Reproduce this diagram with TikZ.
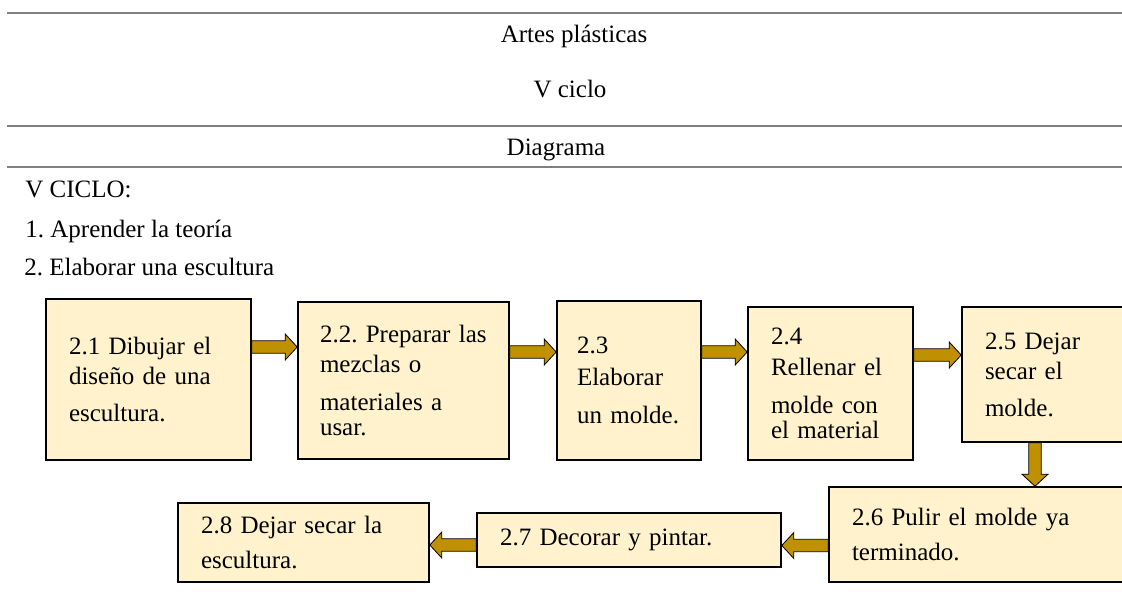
\documentclass[tikz,border=0pt]{standalone}
\usepackage{fontspec}
\setmainfont{Liberation Serif}
\usepackage{tikz}
\usetikzlibrary{calc}

\definecolor{cajafondo}{HTML}{FFF2CC}
\definecolor{flechaoro}{HTML}{BF9000}
\definecolor{regla}{HTML}{808080}

\tikzset{
  caja/.style={draw=black, line width=0.8pt, fill=cajafondo, inner xsep=11.5pt, align=left, font=\fontsize{12.5pt}{15pt}\selectfont},
  texto/.style={inner sep=0pt, font=\fontsize{12.5pt}{15pt}\selectfont},
  flecha/.style={fill=flechaoro, draw=black, line width=0.4pt, line join=miter},
  linea/.style={draw=regla, line width=1pt}
}

% block arrow from #1 to #2
\newcommand{\bloqueflecha}[2]{%
  \coordinate (fa) at (#1);
  \coordinate (fb) at (#2);
  \coordinate (fh) at ($(fb)!6pt!(fa)$);
  \filldraw[flecha] ($(fa)!3.1pt!90:(fb)$) -- ($(fh)!3.1pt!90:(fb)$) -- ($(fh)!6.5pt!90:(fb)$) -- (fb)
    -- ($(fh)!6.5pt!-90:(fb)$) -- ($(fh)!3.1pt!-90:(fb)$) -- ($(fa)!3.1pt!-90:(fb)$) -- cycle;
}

\begin{document}
\frenchspacing
\begin{tikzpicture}[x=0.5pt, y=-0.5pt]
\useasboundingbox (0,0) rectangle (1122,601);
\clip (0,0) rectangle (1122,601);

\foreach \y in {13,126,167}
  \draw[linea] (7,\y) -- (1122,\y);

\node[texto, anchor=base] (titulo) at (574,42) {Artes plásticas};
\node[texto, anchor=base] (ciclo) at (570,97) {V ciclo};
\node[texto, anchor=base] (diagrama) at (556,155) {Diagrama};
\node[texto, anchor=base west] (vciclo) at (25,197) {V CICLO:};
\node[texto, anchor=base west] (paso1) at (25,237) {1. Aprender la teoría};
\node[texto, anchor=base west] (paso2) at (24,275) {2. Elaborar una escultura};

\node[caja, minimum width=102.5pt, minimum height=80.5pt, text width=79.5pt] (b1) at (148.5,379.5) {2.1 Dibujar el\\ diseño de una\\[3.5pt] escultura.};
\node[caja, inner xsep=11pt, minimum width=105.5pt, minimum height=78.5pt, text width=83.5pt] (b2) at (403.5,380.5) {2.2. Preparar las\\ mezclas o\\[4pt] materiales a\\[-2.5pt] usar.};
\node[caja, inner xsep=10pt, minimum width=72pt, minimum height=79.5pt, text width=52pt] (b3) at (629,380.5) {2.3\\[1pt] Elaborar\\[4pt] un molde.};
\node[caja, minimum width=82.5pt, minimum height=76.5pt, text width=59.5pt] (b4) at (830.5,383.5) {2.4\\[0.5pt] Rellenar el\\[4pt] molde con\\[-2.5pt] el material};
\node[caja, minimum width=85pt, minimum height=67.5pt, text width=62pt] (b5) at (1047,374.5) {2.5 Dejar\\ secar el\\[3.5pt] molde.};
\node[caja, minimum width=151.5pt, minimum height=47.5pt, text width=128.5pt] (b6) at (980.5,534.5) {2.6 Pulir el molde ya\\[2.5pt] terminado.};
\node[caja, minimum width=152pt, minimum height=27pt, text width=129pt] (b7) at (629,540) {2.7 Decorar y pintar.};
\node[caja, minimum width=125.5pt, minimum height=39.5pt, text width=102.5pt] (b8) at (303.5,542.5) {2.8 Dejar secar la\\[2.5pt] escultura.};

\foreach \a/\b/\s in {1/2/16.25, 2/3/14.25, 3/4/14.25, 4/5/14.25}
  {\bloqueflecha{[yshift=\s pt]b\a.east}{b\b.west |- fa}}
\bloqueflecha{[xshift=-6pt]b5.south}{b6.north -| fa}
\bloqueflecha{[yshift=-5.5pt]b6.west}{b7.east |- fa}
\bloqueflecha{[yshift=-2.5pt]b7.west}{b8.east |- fa}

\end{tikzpicture}
\end{document}
